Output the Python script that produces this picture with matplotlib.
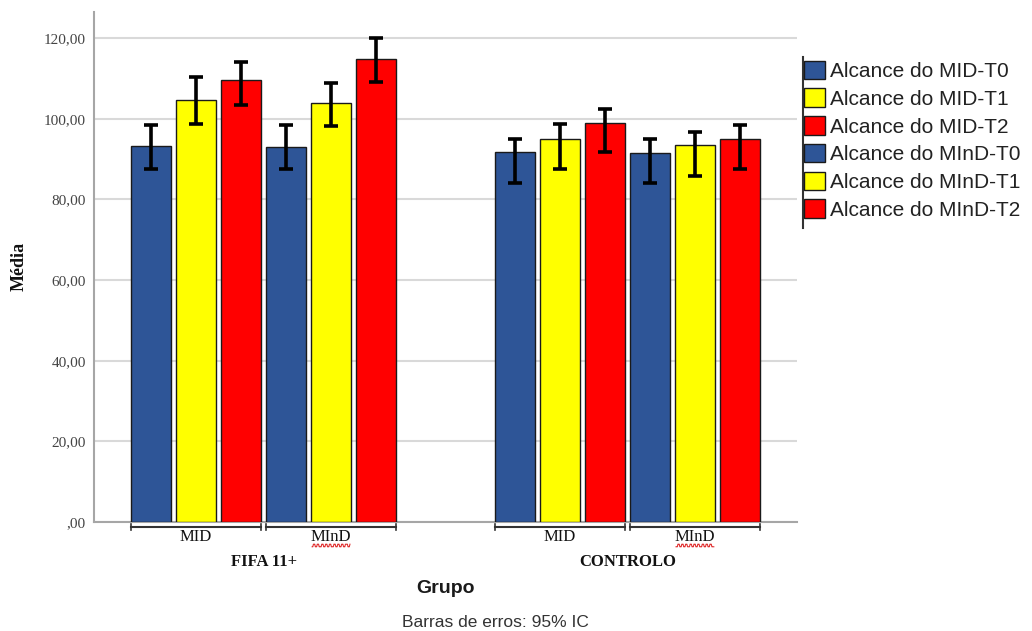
import matplotlib
matplotlib.use("Agg")
import matplotlib.pyplot as plt
import numpy as np
from matplotlib.patches import Patch
from matplotlib.lines import Line2D
from matplotlib.transforms import blended_transform_factory

# group / measure / time structure
groups = ["FIFA 11+", "CONTROLO"]
measures = ["MID", "MInD"]
times = ["T0", "T1", "T2"]

# mean reach per group, ordered MID-T0, MID-T1, MID-T2, MInD-T0, MInD-T1, MInD-T2
fifa_mean = [93.3, 104.6, 109.6, 93.0, 104.0, 114.9]
ctrl_mean = [91.7, 95.0, 99.0, 91.5, 93.4, 95.0]

# 95% confidence interval bounds
fifa_lo = [87.6, 98.6, 103.4, 87.6, 98.2, 109.2]
fifa_hi = [98.4, 110.3, 114.1, 98.4, 109.0, 120.1]
ctrl_lo = [84.0, 87.6, 91.7, 84.0, 85.9, 87.6]
ctrl_hi = [95.0, 98.6, 102.5, 95.0, 96.8, 98.4]

yticks = [0, 20, 40, 60, 80, 100, 120]

BLUE = "#2e5597"
YELLOW = "#ffff00"
RED = "#ff0000"
colors = [BLUE, YELLOW, RED, BLUE, YELLOW, RED]
labels = [f"Alcance do {m}-{t}" for m in measures for t in times]

SERIF = "Liberation Serif"
SANS = "Liberation Sans"

fig = plt.figure(figsize=(10.32, 6.31), dpi=100)
ax = fig.add_axes([0.0911, 0.1727, 0.6812, 0.8083])

step = 1.0
width = 0.89
group_gap = 8.09
means = [fifa_mean, ctrl_mean]
los = [fifa_lo, ctrl_lo]
his = [fifa_hi, ctrl_hi]

for gi in range(len(groups)):
    x = np.arange(6) * step + gi * group_gap
    m = np.array(means[gi])
    err = np.vstack([m - np.array(los[gi]), np.array(his[gi]) - m])
    ax.bar(x, m, width=width, color=colors, edgecolor="#1a1a1a",
           linewidth=1.0, zorder=3)
    ax.errorbar(x, m, yerr=err, fmt="none", ecolor="black", elinewidth=2.6,
                capsize=5, capthick=2.6, zorder=4)

ax.set_xlim(-1.27, 14.36)
ax.set_ylim(0, 126.5)

ax.set_yticks(yticks)
ax.set_yticklabels([",00" if v == 0 else f"{v:.2f}".replace(".", ",") for v in yticks],
                   fontfamily=SERIF, fontsize=11, color="#444444")
ax.tick_params(axis="y", length=0, pad=6)
ax.set_xticks([])
ax.grid(True, axis="y", color="#d9d9d9", linewidth=1.5, zorder=0)

for side in ["top", "right"]:
    ax.spines[side].set_visible(False)
ax.spines["left"].set_color("#a6a6a6")
ax.spines["left"].set_linewidth(1.5)
ax.spines["bottom"].set_color("#a6a6a6")
ax.spines["bottom"].set_linewidth(1.5)

# measure brackets and labels under each group
tr = blended_transform_factory(ax.transData, ax.transAxes)
for gi, g in enumerate(groups):
    base = gi * group_gap
    for mi, meas in enumerate(measures):
        x0 = base + mi * 3 * step - width / 2
        x1 = base + mi * 3 * step + 2 * step + width / 2
        ax.add_line(Line2D([x0, x1], [-0.0098, -0.0098], transform=tr,
                           color="#333333", lw=1.5, clip_on=False))
        for xe in (x0, x1):
            ax.add_line(Line2D([xe, xe], [-0.004, -0.016], transform=tr,
                               color="#333333", lw=1.2, clip_on=False))
        xc = (x0 + x1) / 2
        ax.text(xc, -0.03, meas, transform=tr, ha="center",
                va="center", fontfamily=SERIF, fontsize=12, color="#111111")
        if meas == "MInD":
            # spell-check squiggle under the label
            sx = np.linspace(xc - 0.42, xc + 0.42, 60)
            sy = -0.046 + 0.0025 * np.sign(np.sin(sx / 0.045 * np.pi))
            ax.add_line(Line2D(sx, sy, transform=tr, color="#e03030",
                               lw=0.8, clip_on=False))
    ax.text(base + 2.5 * step, -0.078, g, transform=tr, ha="center",
            va="center", fontfamily=SERIF, fontsize=12, fontweight="bold",
            color="#111111")

fig.text(0.0184, 0.578, "Média", rotation=90, ha="center", va="center",
         fontfamily=SERIF, fontsize=13, fontweight="bold", color="#111111")
fig.text(0.4317, 0.068, "Grupo", ha="center", va="center",
         fontfamily=SANS, fontsize=14, fontweight="bold", color="#1a1a1a")
fig.text(0.48, 0.014, "Barras de erros: 95% IC", ha="center", va="center",
         fontfamily=SANS, fontsize=12.5, color="#333333")

handles = [Patch(facecolor=c, edgecolor="#1a1a1a", linewidth=1.0) for c in colors]
leg = fig.legend(handles, labels, loc="upper left",
                 bbox_to_anchor=(0.779, 0.904), frameon=False,
                 prop={"family": SANS, "size": 15},
                 handlelength=1.0, handleheight=1.0, handletextpad=0.25,
                 labelspacing=0.35, borderaxespad=0, borderpad=0)
for t in leg.get_texts():
    t.set_color("#222222")
fig.add_artist(Line2D([803 / 1032, 803 / 1032], [1 - 57 / 631, 1 - 228 / 631],
                      transform=fig.transFigure, color="#333333", lw=1.5))

fig.savefig("out.png", dpi=100, facecolor="white")
